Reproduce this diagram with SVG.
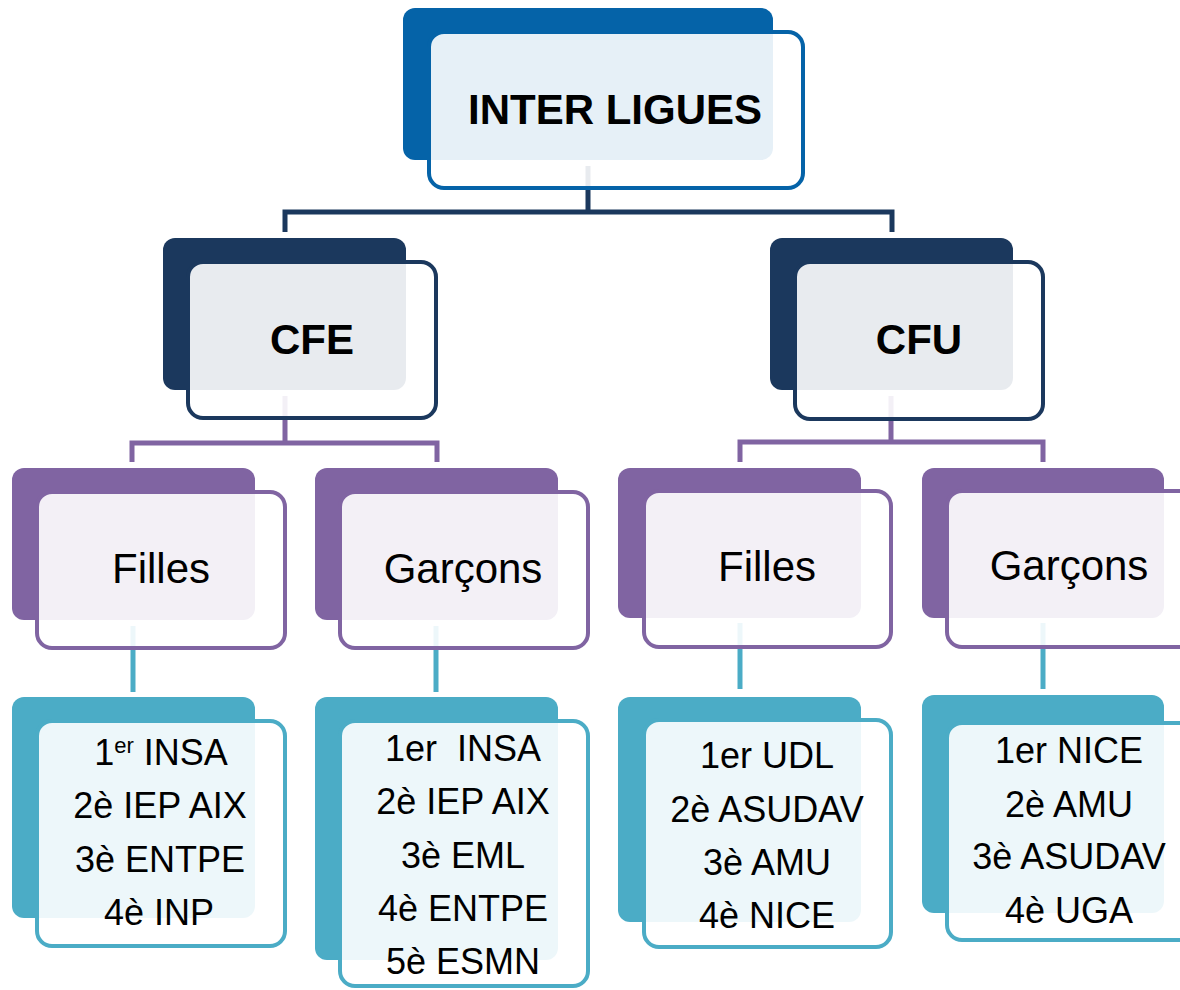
<svg xmlns="http://www.w3.org/2000/svg" width="1180" height="990" viewBox="0 0 1180 990">
<style>
text{font-family:"Liberation Sans",Arial,sans-serif;fill:#000;text-anchor:middle}
.t1{font-size:42px;font-weight:bold}
.t3{font-size:42px}
.t4{font-size:36px}
.sup{font-size:22px}
.front{fill:#fff;fill-opacity:0.9;stroke-width:4}
.bBlue{fill:#0563A8}.sBlue{stroke:#0563A8}
.bNavy{fill:#1B385D}.sNavy{stroke:#1B385D}
.bPur{fill:#8064A2}.sPur{stroke:#8064A2}
.bCy{fill:#4BACC6}.sCy{stroke:#4BACC6}
.con{fill:none;stroke-width:5;stroke-linejoin:miter}
</style>
<g id="connectors">
  <path class="con sNavy" d="M588,166 V212 M285,232 V212 H892 V232"/>
  <path class="con sPur" d="M285,396 V443 M132,462 V443 H437 V462"/>
  <path class="con sPur" d="M891,396 V442 M740,462 V442 H1043 V462"/>
  <path class="con sCy" d="M133,626 V692"/>
  <path class="con sCy" d="M436,626 V692"/>
  <path class="con sCy" d="M740,623 V689"/>
  <path class="con sCy" d="M1043,623 V689"/>
</g>
<g id="inter-ligues">
  <rect class="bBlue" x="403" y="8" width="370" height="152" rx="12"/>
  <rect class="front sBlue" x="429" y="32" width="374" height="156" rx="15"/>
  <text class="t1" x="615" y="124">INTER LIGUES</text>
</g>
<g id="cfe">
  <rect class="bNavy" x="163" y="238" width="243" height="152" rx="12"/>
  <rect class="front sNavy" x="188" y="262" width="248" height="156" rx="15"/>
  <text class="t1" x="312" y="354">CFE</text>
</g>
<g id="cfu">
  <rect class="bNavy" x="770" y="238" width="243" height="152" rx="12"/>
  <rect class="front sNavy" x="795" y="262" width="248" height="157" rx="15"/>
  <text class="t1" x="919" y="354">CFU</text>
</g>
<g id="cfe-filles">
  <rect class="bPur" x="12" y="468" width="243" height="152" rx="12"/>
  <rect class="front sPur" x="37" y="492" width="248" height="156" rx="15"/>
  <text class="t3" x="161" y="583">Filles</text>
</g>
<g id="cfe-garcons">
  <rect class="bPur" x="315" y="468" width="243" height="152" rx="12"/>
  <rect class="front sPur" x="340" y="492" width="248" height="156" rx="15"/>
  <text class="t3" x="463" y="583">Garçons</text>
</g>
<g id="cfu-filles">
  <rect class="bPur" x="618" y="468" width="243" height="150" rx="12"/>
  <rect class="front sPur" x="644" y="491" width="247" height="156" rx="15"/>
  <text class="t3" x="767" y="581">Filles</text>
</g>
<g id="cfu-garcons">
  <rect class="bPur" x="922" y="468" width="242" height="150" rx="12"/>
  <rect class="front sPur" x="947" y="491" width="248" height="156" rx="15"/>
  <text class="t3" x="1069" y="580">Garçons</text>
</g>
<g id="cfe-filles-list">
  <rect class="bCy" x="12" y="697" width="243" height="221" rx="12"/>
  <rect class="front sCy" x="37" y="721" width="248" height="225" rx="15"/>
  <text class="t4" x="161" y="765">1<tspan class="sup" dy="-12">er</tspan><tspan dy="12"> INSA</tspan></text>
  <text class="t4" x="160" y="818">2è IEP AIX</text>
  <text class="t4" x="160" y="872">3è ENTPE</text>
  <text class="t4" x="159" y="925">4è INP</text>
</g>
<g id="cfe-garcons-list">
  <rect class="bCy" x="315" y="697" width="243" height="263" rx="12"/>
  <rect class="front sCy" x="340" y="721" width="248" height="265" rx="15"/>
  <text class="t4" x="463" y="761">1er&#160; INSA</text>
  <text class="t4" x="463" y="814">2è IEP AIX</text>
  <text class="t4" x="463" y="868">3è EML</text>
  <text class="t4" x="463" y="921">4è ENTPE</text>
  <text class="t4" x="463" y="974">5è ESMN</text>
</g>
<g id="cfu-filles-list">
  <rect class="bCy" x="618" y="697" width="243" height="225" rx="12"/>
  <rect class="front sCy" x="644" y="720" width="247" height="227" rx="15"/>
  <text class="t4" x="767" y="768">1er UDL</text>
  <text class="t4" x="767" y="822">2è ASUDAV</text>
  <text class="t4" x="767" y="875">3è AMU</text>
  <text class="t4" x="767" y="928">4è NICE</text>
</g>
<g id="cfu-garcons-list">
  <rect class="bCy" x="922" y="695" width="242" height="218" rx="12"/>
  <rect class="front sCy" x="947" y="723" width="248" height="217" rx="15"/>
  <text class="t4" x="1069" y="763">1er NICE</text>
  <text class="t4" x="1069" y="817">2è AMU</text>
  <text class="t4" x="1069" y="869">3è ASUDAV</text>
  <text class="t4" x="1069" y="923">4è UGA</text>
</g>
</svg>
